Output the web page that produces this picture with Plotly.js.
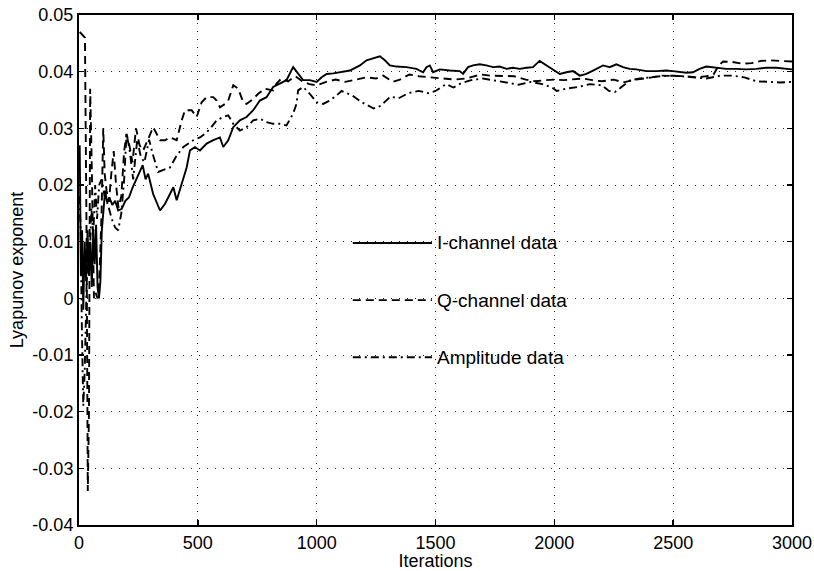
<!DOCTYPE html>
<html>
<head>
<meta charset="utf-8">
<script src="https://cdn.plot.ly/plotly-3.0.1.min.js"></script>
<style>
  html, body { margin: 0; padding: 0; background: #fff; }
  #chart { width: 814px; height: 571px; }
</style>
</head>
<body>
<div id="chart"></div>
<script>
// Largest Lyapunov exponent estimate vs. number of iterations, three data sets.
const seriesNames = ['I-channel data', 'Q-channel data', 'Amplitude data'];

const iterI = [3, 8, 13, 18, 24, 30, 36, 42, 48, 54, 60, 66, 72, 78, 84, 90, 96, 103, 110, 118, 128, 140, 152, 165, 180, 195, 210, 225, 240, 256, 268, 280, 291, 312, 341, 362, 383, 397, 411, 432, 453, 467, 488, 509, 537, 565, 593, 607, 628, 649, 677, 705, 733, 761, 789, 817, 845, 873, 901, 922, 943, 971, 1000, 1021, 1042, 1070, 1097, 1140, 1154, 1182, 1210, 1238, 1266, 1287, 1308, 1336, 1378, 1420, 1448, 1462, 1476, 1490, 1518, 1560, 1602, 1616, 1637, 1658, 1686, 1714, 1742, 1770, 1799, 1826, 1854, 1883, 1910, 1938, 1967, 1994, 2023, 2051, 2079, 2107, 2135, 2163, 2205, 2233, 2261, 2289, 2317, 2345, 2387, 2429, 2471, 2499, 2527, 2555, 2583, 2611, 2639, 2667, 2695, 2723, 2765, 2807, 2849, 2891, 2934, 2976, 3000];
const lyapI = [0.027, 0.004, 0.012, -0.002, 0.010, 0.003, 0.012, 0.004, 0.010, 0.002, 0.012, 0.006, 0.013, 0.002, 0.000, 0.003, 0.012, 0.016, 0.019, 0.017, 0.0178, 0.0165, 0.0172, 0.0155, 0.0158, 0.0172, 0.0178, 0.0195, 0.021, 0.0226, 0.0235, 0.021, 0.022, 0.0184, 0.0155, 0.0167, 0.0184, 0.0196, 0.0173, 0.0202, 0.0231, 0.0261, 0.0267, 0.0261, 0.0273, 0.0279, 0.0284, 0.0267, 0.0279, 0.0302, 0.0314, 0.032, 0.0332, 0.0349, 0.0355, 0.0373, 0.0379, 0.0385, 0.0408, 0.0396, 0.0385, 0.0385, 0.0382, 0.039, 0.0396, 0.0397, 0.0399, 0.0402, 0.0405, 0.0411, 0.042, 0.0423, 0.0427, 0.042, 0.0411, 0.0409, 0.0408, 0.0405, 0.0399, 0.0408, 0.0411, 0.0399, 0.0404, 0.0402, 0.0401, 0.0396, 0.0408, 0.0411, 0.0413, 0.0411, 0.0408, 0.0409, 0.0405, 0.0407, 0.0405, 0.0407, 0.0408, 0.0419, 0.0411, 0.0404, 0.0396, 0.0399, 0.0401, 0.0393, 0.0396, 0.0402, 0.0411, 0.0408, 0.0413, 0.0408, 0.0405, 0.0404, 0.0401, 0.0401, 0.0402, 0.0401, 0.0399, 0.0398, 0.0399, 0.0405, 0.0409, 0.0408, 0.0407, 0.0405, 0.0405, 0.0404, 0.0405, 0.0407, 0.0407, 0.0405, 0.0404];

const iterQ = [3, 15, 25, 32, 37, 42, 47, 53, 58, 63, 70, 78, 86, 95, 102, 108, 116, 126, 136, 146, 156, 166, 178, 190, 200, 212, 225, 240, 255, 270, 290, 312, 341, 362, 383, 411, 432, 446, 474, 495, 516, 537, 565, 579, 593, 614, 628, 649, 670, 691, 705, 733, 754, 782, 817, 831, 852, 880, 910, 940, 970, 1000, 1040, 1080, 1120, 1160, 1210, 1250, 1280, 1320, 1350, 1390, 1430, 1480, 1530, 1580, 1630, 1690, 1730, 1780, 1830, 1880, 1920, 1960, 2000, 2040, 2080, 2120, 2160, 2200, 2250, 2290, 2330, 2370, 2410, 2450, 2500, 2550, 2600, 2640, 2670, 2690, 2710, 2750, 2790, 2830, 2870, 2910, 2950, 3000];
const lyapQ = [0.047, 0.0465, 0.046, 0.010, -0.034, -0.020, 0.037, 0.025, 0.010, 0.000, 0.001, 0.000, 0.004, 0.015, 0.030, 0.022, 0.019, 0.017, 0.022, 0.026, 0.020, 0.016, 0.018, 0.026, 0.029, 0.027, 0.024, 0.030, 0.027, 0.0261, 0.028, 0.0302, 0.0279, 0.0279, 0.0284, 0.0279, 0.0314, 0.0332, 0.0332, 0.032, 0.0346, 0.0355, 0.0355, 0.0349, 0.0337, 0.0343, 0.0349, 0.0376, 0.037, 0.0346, 0.0343, 0.0352, 0.0361, 0.037, 0.0367, 0.0379, 0.0388, 0.0383, 0.0392, 0.0383, 0.0378, 0.0376, 0.0382, 0.0386, 0.0382, 0.0386, 0.039, 0.0388, 0.0393, 0.0382, 0.0386, 0.0395, 0.0392, 0.039, 0.0388, 0.0386, 0.0388, 0.0395, 0.0393, 0.0392, 0.0392, 0.0386, 0.0383, 0.0385, 0.0386, 0.0385, 0.0386, 0.0388, 0.0385, 0.0383, 0.0386, 0.0381, 0.0385, 0.0387, 0.039, 0.0393, 0.0393, 0.0392, 0.039, 0.0392, 0.0395, 0.041, 0.0418, 0.0417, 0.0414, 0.0415, 0.0419, 0.042, 0.0419, 0.0418];

const iterAmp = [2, 7, 12, 18, 24, 30, 36, 44, 52, 60, 68, 76, 85, 95, 108, 122, 138, 152, 165, 178, 190, 200, 212, 228, 245, 260, 275, 295, 310, 333, 355, 383, 411, 439, 481, 509, 537, 551, 579, 607, 628, 649, 677, 705, 733, 761, 789, 817, 845, 873, 901, 915, 922, 943, 971, 1000, 1027, 1055, 1084, 1105, 1150, 1190, 1240, 1270, 1310, 1345, 1385, 1430, 1470, 1500, 1545, 1575, 1610, 1650, 1700, 1750, 1800, 1850, 1900, 1950, 1990, 2010, 2050, 2100, 2150, 2200, 2230, 2255, 2280, 2320, 2360, 2400, 2450, 2500, 2550, 2600, 2640, 2700, 2750, 2800, 2850, 2900, 2950, 3000];
const lyapAmp = [0.018, 0.012, -0.005, -0.019, -0.013, 0.000, 0.010, 0.005, 0.016, 0.011, 0.020, 0.014, 0.020, 0.021, 0.018, 0.0165, 0.014, 0.0125, 0.012, 0.015, 0.021, 0.029, 0.0265, 0.021, 0.028, 0.025, 0.024, 0.028, 0.0255, 0.0223, 0.0226, 0.0231, 0.0252, 0.0267, 0.0279, 0.0284, 0.0293, 0.0299, 0.0314, 0.032, 0.0323, 0.0308, 0.0296, 0.0302, 0.0314, 0.0317, 0.0311, 0.0308, 0.0308, 0.0305, 0.0326, 0.0343, 0.0367, 0.0373, 0.0361, 0.0346, 0.0343, 0.0349, 0.0358, 0.0366, 0.0358, 0.0346, 0.0335, 0.034, 0.0356, 0.0353, 0.0362, 0.0366, 0.0362, 0.0366, 0.0378, 0.0372, 0.038, 0.0385, 0.0388, 0.0384, 0.038, 0.0377, 0.0382, 0.0378, 0.0372, 0.0366, 0.037, 0.0373, 0.0378, 0.0376, 0.0366, 0.0364, 0.0372, 0.0385, 0.0388, 0.039, 0.0392, 0.0393, 0.0391, 0.0389, 0.0388, 0.0393, 0.0393, 0.039, 0.0383, 0.0382, 0.0381, 0.0382];

const xTickVals = [0, 500, 1000, 1500, 2000, 2500, 3000];
const yTickVals = [-0.04, -0.03, -0.02, -0.01, 0, 0.01, 0.02, 0.03, 0.04, 0.05];
const yTickText = ['-0.04', '-0.03', '-0.02', '-0.01', '0', '0.01', '0.02', '0.03', '0.04', '0.05'];

const seriesX = [iterI, iterQ, iterAmp];
const seriesY = [lyapI, lyapQ, lyapAmp];
const dashes = ['solid', '8px,5px', '8px,4px,2px,4px'];
const legendRows = [0.553, 0.441, 0.329];

const FONT = 'Liberation Sans, Arial, sans-serif';

const traces = seriesNames.map((name, k) => ({
  type: 'scatter',
  mode: 'lines',
  name: name,
  x: seriesX[k],
  y: seriesY[k],
  line: { color: '#000', width: 1.9, dash: dashes[k] },
  showlegend: false,
  hoverinfo: 'skip'
}));

// Boxless key inside the plot area: a line sample followed by its label
const shapes = seriesNames.map((name, k) => ({
  type: 'line', xref: 'paper', yref: 'paper',
  x0: 0.384, x1: 0.495, y0: legendRows[k], y1: legendRows[k],
  line: { color: '#000', width: 1.9, dash: dashes[k] }
}));
const annotations = seriesNames.map((name, k) => ({
  xref: 'paper', yref: 'paper', x: 0.499, y: legendRows[k],
  xanchor: 'left', yanchor: 'middle', showarrow: false,
  text: name, font: { family: FONT, size: 19, color: '#000' }
}));

const axisCommon = {
  showline: true, linecolor: '#000', linewidth: 2, mirror: 'ticks',
  ticks: 'inside', ticklen: 5, tickwidth: 1.5, tickcolor: '#000',
  showgrid: true, gridcolor: '#222', gridwidth: 1, griddash: '1px,7px',
  zeroline: false,
  tickfont: { family: FONT, size: 18, color: '#000' }
};

const layout = {
  width: 814, height: 571,
  margin: { l: 79, r: 22, t: 15, b: 46 },
  paper_bgcolor: '#fff', plot_bgcolor: '#fff',
  xaxis: Object.assign({}, axisCommon, {
    range: [0, 3000], tickvals: xTickVals,
    title: { text: 'Iterations', font: { family: FONT, size: 18, color: '#000' }, standoff: 0 }
  }),
  yaxis: Object.assign({}, axisCommon, {
    range: [-0.04, 0.05], tickvals: yTickVals, ticktext: yTickText,
    title: { text: 'Lyapunov exponent', font: { family: FONT, size: 18, color: '#000' }, standoff: 4 }
  }),
  shapes: shapes,
  annotations: annotations
};

Plotly.newPlot('chart', traces, layout, { staticPlot: true, displayModeBar: false });
</script>
</body>
</html>
